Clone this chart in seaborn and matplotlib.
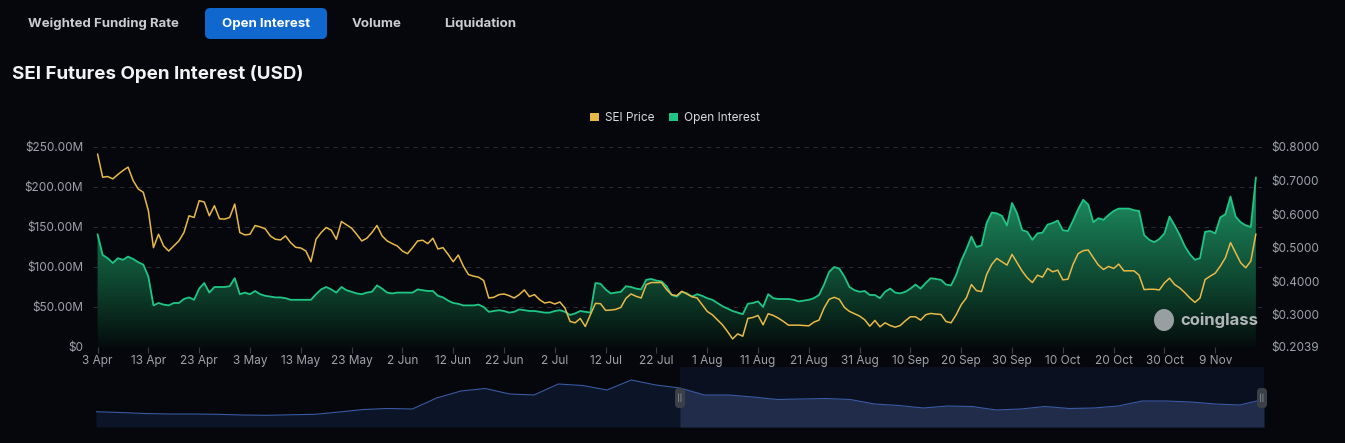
import numpy as np
import pandas as pd
import seaborn as sns
import matplotlib.pyplot as plt
import matplotlib.dates as mdates
from matplotlib.colors import LinearSegmentedColormap
from matplotlib.patches import FancyBboxPatch, Rectangle, Patch, Ellipse

# daily values, 3 Apr 2024 -> 17 Nov 2024
start_date = "2024-04-03"

oi_musd = [
    141, 115, 111, 105, 111, 109, 113, 110, 106, 103, 88, 52, 55, 53, 52, 55, 55, 60, 62, 59,
    73, 80, 68, 75, 75, 75, 76, 86, 66, 68, 66, 70, 66, 64, 63, 62, 62, 61, 59, 59,
    59, 59, 59, 66, 72, 75, 72, 68, 75, 71, 69, 67, 66, 68, 69, 77, 73, 68, 67, 68,
    68, 68, 68, 72, 71, 70, 70, 64, 62, 58, 55, 54, 52, 52, 52, 53, 50, 44, 45, 46,
    45, 43, 44, 47, 46, 45, 45, 44, 43, 43, 45, 46, 44, 40, 42, 45, 44, 43, 80, 79,
    72, 67, 68, 69, 76, 75, 73, 72, 84, 85, 83, 82, 76, 65, 63, 69, 67, 63, 66, 64,
    61, 59, 55, 51, 48, 45, 43, 41, 54, 55, 57, 50, 66, 61, 60, 60, 60, 59, 57, 58,
    59, 61, 65, 78, 94, 100, 98, 88, 75, 71, 69, 70, 65, 65, 61, 69, 73, 68, 67, 69,
    73, 78, 73, 80, 86, 85, 84, 78, 77, 90, 108, 122, 138, 125, 127, 155, 168, 167, 164, 152,
    180, 167, 146, 144, 134, 142, 143, 153, 155, 158, 146, 145, 158, 172, 184, 178, 156, 161, 159, 165,
    170, 173, 173, 173, 171, 170, 140, 134, 131, 135, 142, 163, 152, 140, 126, 116, 109, 111, 144, 145,
    142, 162, 166, 188, 163, 156, 152, 150, 212,
]

price_usd = [
    0.779, 0.710, 0.712, 0.705, 0.718, 0.730, 0.740, 0.700, 0.675, 0.665,
    0.610, 0.500, 0.540, 0.505, 0.490, 0.505, 0.520, 0.545, 0.595, 0.590,
    0.640, 0.636, 0.595, 0.625, 0.586, 0.585, 0.590, 0.630, 0.545, 0.538,
    0.540, 0.566, 0.562, 0.556, 0.535, 0.525, 0.523, 0.535, 0.515, 0.501,
    0.499, 0.490, 0.458, 0.525, 0.545, 0.560, 0.552, 0.525, 0.578, 0.568,
    0.558, 0.540, 0.520, 0.528, 0.545, 0.566, 0.535, 0.520, 0.512, 0.505,
    0.490, 0.482, 0.500, 0.520, 0.522, 0.512, 0.528, 0.496, 0.500, 0.480,
    0.458, 0.478, 0.445, 0.420, 0.415, 0.412, 0.402, 0.350, 0.352, 0.360,
    0.362, 0.357, 0.350, 0.360, 0.374, 0.354, 0.360, 0.345, 0.335, 0.338,
    0.332, 0.338, 0.320, 0.280, 0.276, 0.289, 0.265, 0.300, 0.334, 0.333,
    0.313, 0.314, 0.316, 0.322, 0.349, 0.362, 0.355, 0.350, 0.390, 0.396,
    0.396, 0.396, 0.375, 0.360, 0.357, 0.370, 0.362, 0.354, 0.350, 0.330,
    0.310, 0.300, 0.285, 0.270, 0.250, 0.228, 0.243, 0.236, 0.289, 0.292,
    0.298, 0.270, 0.303, 0.298, 0.290, 0.280, 0.269, 0.269, 0.269, 0.268,
    0.267, 0.278, 0.284, 0.320, 0.346, 0.352, 0.346, 0.322, 0.310, 0.303,
    0.296, 0.285, 0.266, 0.283, 0.264, 0.276, 0.268, 0.263, 0.268, 0.282,
    0.294, 0.294, 0.284, 0.300, 0.304, 0.302, 0.301, 0.280, 0.276, 0.300,
    0.330, 0.350, 0.390, 0.372, 0.369, 0.420, 0.450, 0.468, 0.458, 0.448,
    0.480, 0.455, 0.430, 0.410, 0.396, 0.418, 0.412, 0.438, 0.428, 0.433,
    0.404, 0.406, 0.450, 0.482, 0.491, 0.493, 0.470, 0.448, 0.435, 0.444,
    0.438, 0.451, 0.431, 0.431, 0.431, 0.418, 0.375, 0.376, 0.376, 0.374,
    0.395, 0.409, 0.390, 0.380, 0.366, 0.350, 0.337, 0.350, 0.405, 0.415,
    0.424, 0.445, 0.470, 0.515, 0.485, 0.455, 0.440, 0.460, 0.541,
]

# overview strip under the chart (relative heights)
nav_values = [
    15.3, 14.5, 13.5, 13, 13, 12.7, 12, 11.7, 12.2, 12.7, 15, 17.5, 18.5, 18, 29, 36, 38.5,
    33, 32, 43, 41.5, 37, 47, 42, 39, 32, 32, 30, 27.5, 28, 28.5, 27.5, 23, 21.5, 19,
    21, 20.5, 17, 18, 20.5, 18.5, 19, 21, 26, 26, 25, 23, 22, 27.7,
]

tab_labels = ["Weighted Funding Rate", "Open Interest", "Volume", "Liquidation"]
oi_ticks = [0, 50, 100, 150, 200, 250]
price_ticks = [0.2039, 0.3, 0.4, 0.5, 0.6, 0.7, 0.8]

dates = pd.date_range(start_date, periods=len(oi_musd), freq="D")
df = pd.DataFrame({"date": dates, "oi": oi_musd, "price": price_usd})

BG = "#05070c"
GREEN = "#1fc585"
GOLD = "#e8b948"
TICK_C = "#9ea3ab"

sns.set_theme(style="dark", rc={"axes.facecolor": BG, "figure.facecolor": BG})
plt.rcParams["font.family"] = ["Inter", "DejaVu Sans"]

W, H = 1345, 443
fig = plt.figure(figsize=(W / 100, H / 100), dpi=100, facecolor=BG)

def fx(px):
    return px / W

def fy(py):
    return 1 - py / H

# --- tabs and title
btn = FancyBboxPatch((fx(205), fy(39)), fx(122), 31 / H,
                     boxstyle="round,pad=0,rounding_size=0.004",
                     transform=fig.transFigure, fc="#1068cf", ec="none",
                     mutation_aspect=W / H)
fig.patches.append(btn)
tab_x = [103, 266, 377, 480]
for lbl, x in zip(tab_labels, tab_x):
    fig.text(fx(x), fy(24), lbl, ha="center", va="center", fontsize=9.5,
             fontweight="bold", color="white" if lbl == "Open Interest" else "#c9ccd2")
fig.text(fx(12), fy(74), "SEI Futures Open Interest (USD)", ha="left", va="center",
         fontsize=13.5, fontweight="bold", color="#f2f3f5")

# --- main axes
ax = fig.add_axes([fx(93), fy(347), fx(1262 - 93), 200 / H])
ax.set_facecolor(BG)
x0 = mdates.date2num(dates[0])
xmin, xmax = x0 - 0.9, x0 + 229.2

sns.lineplot(data=df, x="date", y="oi", ax=ax, color=GREEN, lw=1.3, zorder=4)

poly = ax.fill_between(df["date"], df["oi"], 0, color="none", lw=0)
cmap = LinearSegmentedColormap.from_list(
    "oi_fill", [(0, "#050c0c"), (0.25, "#0c3a28"), (1, "#24b078")])
grad = np.linspace(0, 1, 256).reshape(-1, 1)
im = ax.imshow(grad, cmap=cmap, aspect="auto", origin="lower",
               extent=[xmin, xmax, 0, 250], zorder=2)
im.set_clip_path(poly.get_paths()[0], transform=ax.transData)

ax.set_xlim(xmin, xmax)
ax.set_ylim(0, 250)
ax.set_yticks(oi_ticks)
ax.set_yticklabels(["$0" if v == 0 else f"${v:.2f}M" for v in oi_ticks])
ax.yaxis.grid(True, color="#272b33", lw=0.8, ls=(0, (4, 4)))
ax.xaxis.grid(False)
ax.set_xlabel("")
ax.set_ylabel("")
tick_dates = pd.date_range(start_date, dates[-1], freq="10D")
ax.set_xticks(tick_dates)
ax.xaxis.set_major_formatter(mdates.DateFormatter("%-d %b"))
ax.tick_params(axis="x", colors="#3a3e46", labelcolor=TICK_C, labelsize=8.5,
               length=4, width=0.8, pad=2, bottom=True)
ax.tick_params(axis="y", labelcolor=TICK_C, labelsize=8.5, length=0, pad=7)
for s in ax.spines.values():
    s.set_visible(False)

ax2 = ax.twinx()
sns.lineplot(data=df, x="date", y="price", ax=ax2, color=GOLD, lw=1.1, zorder=5)
ax2.set_ylim(0.2039, 0.8)
ax2.set_xlim(xmin, xmax)
ax2.set_yticks(price_ticks)
ax2.set_yticklabels([f"${v:.4f}" for v in price_ticks])
ax2.tick_params(axis="y", labelcolor=TICK_C, labelsize=8.5, length=0, pad=7)
ax2.grid(False)
ax2.set_ylabel("")
for s in ax2.spines.values():
    s.set_visible(False)

# legend
handles = [Patch(fc=GOLD, ec="none", label="SEI Price"),
           Patch(fc=GREEN, ec="none", label="Open Interest")]
fig.legend(handles=handles, loc="center", bbox_to_anchor=(fx(675), fy(118)), ncol=2,
           frameon=False, fontsize=8.5, labelcolor="#d6d9de", handlelength=0.75,
           handleheight=0.75, handletextpad=0.45, columnspacing=1.3)

# watermark
fig.patches.append(Ellipse((fx(1164), fy(320)), fx(20), 22 / H, transform=fig.transFigure,
                           fc="#a9adb1", ec="none", alpha=0.9))
fig.text(fx(1180), fy(320), "coinglass", ha="left", va="center", fontsize=12,
         fontweight="bold", color="#b3b6b9")

# --- overview strip
nav = fig.add_axes([fx(96), fy(427), fx(1264 - 96), 60 / H])
nav.set_facecolor(BG)
nx = np.arange(len(nav_values))
sel = 24
nav.add_patch(Rectangle((sel, 0), nx[-1] - sel, 60, fc="#0a1020", ec="none", zorder=0))
nav.fill_between(nx, nav_values, 0, color="#0c1428", lw=0, zorder=1)
nav.fill_between(nx[sel:], nav_values[sel:], 0, color="#212c4a", lw=0, zorder=2)
sns.lineplot(x=nx, y=nav_values, ax=nav, color="#3a5aa3", lw=0.8, zorder=3)
nav.set_xlim(0, nx[-1])
nav.set_ylim(0, 60)
nav.set_xticks([])
nav.set_yticks([])
nav.grid(False)
for s in nav.spines.values():
    s.set_visible(False)

for hx in [680, 1262]:
    fig.patches.append(FancyBboxPatch((fx(hx - 5), fy(408)), fx(10), 20 / H,
                                      boxstyle="round,pad=0,rounding_size=0.003",
                                      transform=fig.transFigure, fc="#3b3f48", ec="none",
                                      mutation_aspect=W / H))
    fig.text(fx(hx), fy(398), "||", ha="center", va="center", fontsize=5.5, color="#9aa0a8")

fig.savefig("out.png", dpi=100, facecolor=BG)
